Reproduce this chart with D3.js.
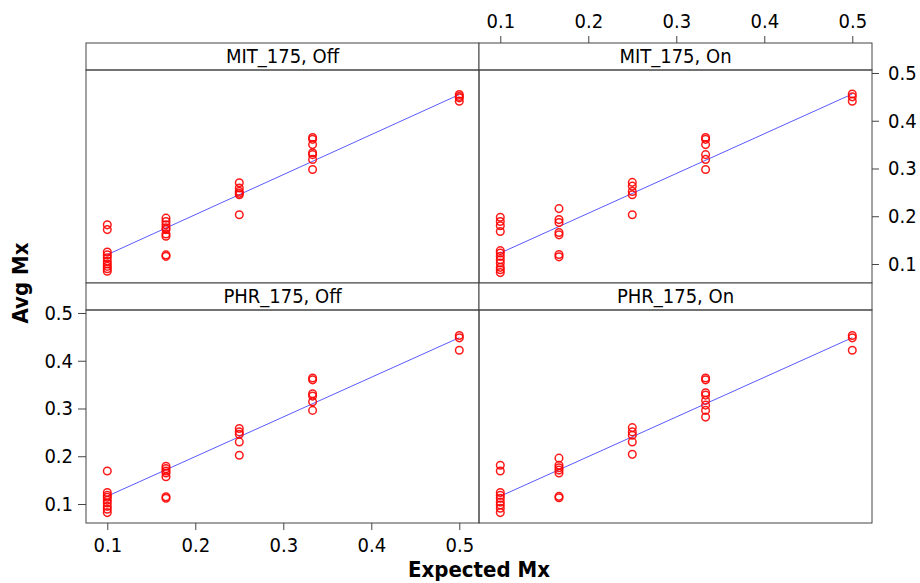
<!DOCTYPE html>
<html><head><meta charset="utf-8">
<script src="https://cdn.jsdelivr.net/npm/d3@7/dist/d3.min.js"></script>
<style>
html,body{margin:0;padding:0;background:#fff;}
text{font-family:"DejaVu Sans Condensed","DejaVu Sans",sans-serif;font-stretch:condensed;}
</style></head>
<body><svg id="chart" width="920" height="583"></svg>
<script>
// ---- data ----
const panels = ["MIT_175, Off", "MIT_175, On", "PHR_175, Off", "PHR_175, On"];
const expectedLevels = [0.1, 0.1667, 0.25, 0.3333, 0.5];
const tickValues = [0.1, 0.2, 0.3, 0.4, 0.5];
const tickLabels = ["0.1", "0.2", "0.3", "0.4", "0.5"];

const mitOff = [
  [0.182, 0.172, 0.125, 0.119, 0.113, 0.106, 0.100, 0.095, 0.090, 0.085],
  [0.196, 0.189, 0.182, 0.176, 0.172, 0.163, 0.158, 0.119, 0.116],
  [0.270, 0.259, 0.252, 0.248, 0.245, 0.203],
  [0.365, 0.361, 0.350, 0.333, 0.329, 0.319, 0.298],
  [0.455, 0.451, 0.448, 0.441]
];
const mitOn = [
  [0.198, 0.189, 0.180, 0.168, 0.128, 0.123, 0.116, 0.109, 0.102, 0.093, 0.088, 0.082],
  [0.216, 0.193, 0.187, 0.166, 0.161, 0.120, 0.115],
  [0.271, 0.263, 0.252, 0.245, 0.203],
  [0.365, 0.361, 0.350, 0.329, 0.319, 0.298],
  [0.456, 0.450, 0.441]
];
const phrOff = [
  [0.169, 0.124, 0.118, 0.114, 0.108, 0.102, 0.095, 0.089, 0.082],
  [0.179, 0.174, 0.169, 0.165, 0.157, 0.115, 0.112],
  [0.258, 0.251, 0.246, 0.230, 0.202],
  [0.364, 0.360, 0.331, 0.326, 0.314, 0.296],
  [0.453, 0.448, 0.422]
];
const phrOn = [
  [0.181, 0.169, 0.124, 0.118, 0.112, 0.104, 0.098, 0.091, 0.082],
  [0.196, 0.181, 0.176, 0.171, 0.165, 0.116, 0.113],
  [0.260, 0.251, 0.244, 0.230, 0.204],
  [0.364, 0.360, 0.333, 0.328, 0.317, 0.307, 0.296, 0.282],
  [0.453, 0.448, 0.422]
];
const panelValues = [mitOff, mitOn, phrOff, phrOn];
// fitted line values at x = 0.1 and x = 0.5
const fitStart = [0.1195, 0.123, 0.1163, 0.1163];
const fitEnd = [0.4548, 0.456, 0.4483, 0.4483];

// ---- layout ----
const svg = d3.select("#chart");
const L = 86, R = 872, T = 43;
const colW = (R - L) / 2;
const stripH = 27, panelH = 213;
const rowH = stripH + panelH;
const border = "#444";

const xDomain = [0.0758, 0.5224];
const yDomain = [0.0602, 0.50628];

const layout = [
  {col: 0, row: 0}, {col: 1, row: 0}, {col: 0, row: 1}, {col: 1, row: 1}
];

layout.forEach((p, i) => {
  const x0 = L + p.col * colW;
  const yStrip = T + p.row * rowH;
  const yPanel = yStrip + stripH;
  const x = d3.scaleLinear().domain(xDomain).range([x0, x0 + colW]);
  const y = d3.scaleLinear().domain(yDomain).range([yPanel + panelH, yPanel]);
  p.x = x; p.y = y;
  const g = svg.append("g");

  // strip
  g.append("rect").attr("x", x0).attr("y", yStrip).attr("width", colW).attr("height", stripH)
    .attr("fill", "#fff").attr("stroke", border).attr("stroke-width", 1);
  g.append("text").attr("x", x0 + colW / 2).attr("y", yStrip + 20)
    .attr("text-anchor", "middle").attr("font-size", 20).attr("fill", "#000").text(panels[i]);

  // fitted line
  g.append("line")
    .attr("x1", x(0.1)).attr("y1", y(fitStart[i]))
    .attr("x2", x(0.5)).attr("y2", y(fitEnd[i]))
    .attr("stroke", "#0000ff").attr("stroke-opacity", 0.65).attr("stroke-width", 1);

  // points
  const pts = [];
  panelValues[i].forEach((vals, k) => vals.forEach(v => pts.push({x: expectedLevels[k], y: v})));
  g.selectAll("circle").data(pts).enter().append("circle")
    .attr("cx", d => x(d.x)).attr("cy", d => y(d.y)).attr("r", 3.8)
    .attr("fill", "none").attr("stroke", "#ff0000").attr("stroke-opacity", 0.9).attr("stroke-width", 1.5);

  // panel border
  g.append("rect").attr("x", x0).attr("y", yPanel).attr("width", colW).attr("height", panelH)
    .attr("fill", "none").attr("stroke", border).attr("stroke-width", 1);
});

function styleAxis(sel) {
  sel.select(".domain").remove();
  sel.selectAll(".tick line").attr("stroke", border);
  sel.selectAll(".tick text").attr("font-size", 20).attr("fill", "#000")
    .attr("font-family", '"DejaVu Sans Condensed","DejaVu Sans",sans-serif');
}

// bottom axis (left column)
const pBL = layout[2];
svg.append("g").attr("transform", `translate(0,${T + 2 * rowH})`)
  .call(d3.axisBottom(pBL.x).tickValues(tickValues).tickFormat((d, j) => tickLabels[j]).tickSize(7).tickPadding(8))
  .call(styleAxis);

// left axis (bottom row)
svg.append("g").attr("transform", `translate(${L},0)`)
  .call(d3.axisLeft(pBL.y).tickValues(tickValues).tickFormat((d, j) => tickLabels[j]).tickSize(8).tickPadding(5))
  .call(styleAxis);

// top axis (right column)
const pTR = layout[1];
svg.append("g").attr("transform", `translate(0,${T})`)
  .call(d3.axisTop(pTR.x).tickValues(tickValues).tickFormat((d, j) => tickLabels[j]).tickSize(7).tickPadding(8))
  .call(styleAxis);

// right axis (top row)
svg.append("g").attr("transform", `translate(${R},0)`)
  .call(d3.axisRight(pTR.y).tickValues(tickValues).tickFormat((d, j) => tickLabels[j]).tickSize(7).tickPadding(9))
  .call(styleAxis);

// axis titles
svg.append("text").attr("x", 479).attr("y", 577).attr("text-anchor", "middle")
  .attr("font-size", 22).attr("font-weight", "bold").attr("fill", "#000").text("Expected Mx");
svg.append("text").attr("transform", `translate(28,${T + rowH}) rotate(-90)`).attr("text-anchor", "middle")
  .attr("font-size", 22).attr("font-weight", "bold").attr("fill", "#000").text("Avg Mx");
</script>
</body></html>
